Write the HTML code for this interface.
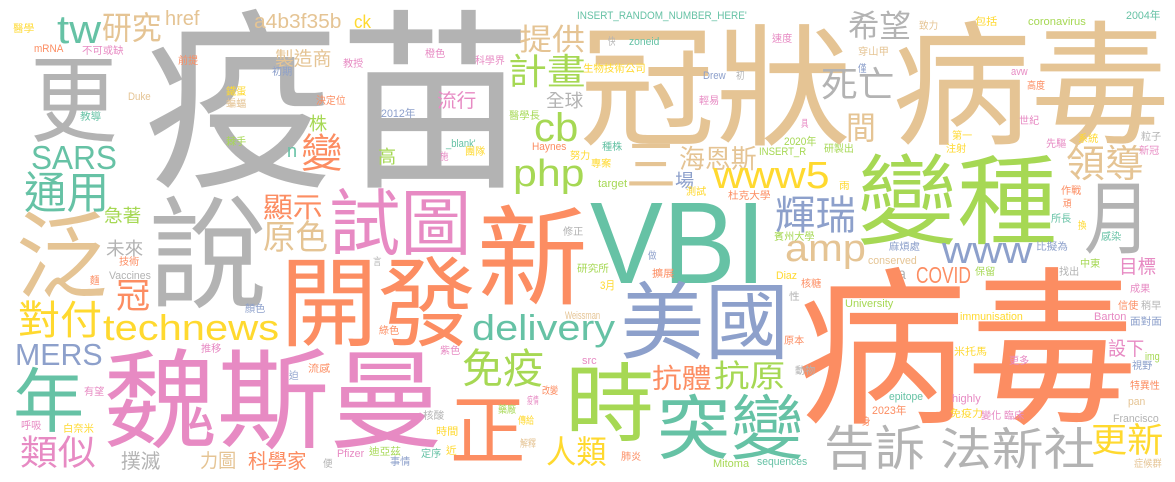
<!DOCTYPE html>
<html><head><meta charset="utf-8">
<style>
html,body{margin:0;padding:0;background:#fff;}
#cloud{position:relative;width:1175px;height:482px;overflow:hidden;background:#fff;}
#cloud span{position:absolute;white-space:nowrap;line-height:1;font-family:"Liberation Sans","Noto Sans CJK TC",sans-serif;transform-origin:0 0;}
</style></head>
<body>
<div id="cloud"></div>
<script>
const palette = {g:"#b3b3b3",t:"#e5c494",o:"#fc8d62",G:"#a6d854",T:"#66c2a5",b:"#8da0cb",p:"#e78ac3",y:"#ffd92f"};
// [text, color, inkLeft, inkTop, inkRight, fontSize, kind]
const bigWords = [
["疫苗","g",149,13,515,193,"c"],["更","g",33,57,115,95,"c"],["tw","T",57,15,101,40,"L"],
["研究","t",103,13,159,32,"c"],["href","t",165,12,199,20,"L"],["a4b3f35b","t",254,15,341,20,"L"],
["ck","y",354,15,371,18,"L"],["提供","t",520,27,582,30,"c"],["計畫","G",509,55,582,36,"c"],
["製造商","t",276,50,329,19,"c"],["流行","p",438,92,475,19,"c"],["全球","g",547,92,582,18,"c"],
["株","G",310,115,327,18,"c"],["cb","G",534,113,578,40,"L"],["SARS","T",31,145,117,33,"L"],
["變","o",302,135,341,40,"c"],["n","T",287,148,297,18,"x"],["高","G",379,148,396,18,"c"],
["php","G",513,160,584,38,"L"],["通用","T",25,173,105,44,"c"],["泛","t",19,213,105,95,"c"],
["說","g",153,197,264,122,"c"],["急著","G",105,207,140,18,"c"],["顯示","o",264,195,320,28,"c"],
["試圖","p",331,190,465,72,"c"],["原色","t",264,222,325,34,"c"],["新","o",480,207,584,108,"c"],
["未來","g",107,240,142,18,"c"],["冠","o",117,280,149,35,"c"],["開發","o",283,257,467,98,"c"],
["對付","y",19,302,98,40,"c"],["technews","y",103,315,279,36,"L"],["delivery","T",472,315,615,36,"L"],
["MERS","b",15,343,103,31,"L"],["免疫","G",463,350,540,41,"c"],["年","T",15,368,82,70,"c"],
["魏斯曼","p",107,350,425,108,"c"],["類似","p",21,437,92,35,"c"],["撲滅","g",122,452,159,20,"c"],
["力圖","t",201,452,235,19,"c"],["科學家","o",249,452,304,20,"c"],["正","o",452,397,523,76,"c"],
["人類","y",547,437,604,32,"c"],["時","G",568,365,652,85,"c"],["冠狀","t",583,27,839,132,"c"],
["希望","g",849,12,908,31,"c"],["死亡","g",822,68,891,36,"c"],["間","t",847,113,875,32,"c"],
["病毒","t",896,23,1157,135,"c"],["三","t",627,140,674,55,"c"],["海恩斯","t",680,147,753,26,"c"],
["領導","t",1067,147,1140,38,"c"],["變種","G",860,155,1048,98,"c"],["www5","y",713,162,829,38,"L"],
["場","b",676,172,694,18,"c"],["月","g",1086,182,1149,80,"c"],["輝瑞","b",776,197,852,40,"c"],
["VBI","T",590,200,766,116,"L"],["amp","t",785,243,866,38,"x"],["www","b",942,245,1032,38,"x"],
["目標","p",1120,258,1155,19,"c"],["COVID","o",916,267,971,23,"L"],["a","g",898,272,906,16,"x"],
["美國","b",623,283,782,84,"c"],["病毒","o",801,270,1122,170,"c"],["設下","p",1109,340,1143,19,"c"],
["抗體","o",653,367,709,27,"c"],["抗原","G",715,362,782,31,"c"],["突變","T",659,395,797,70,"c"],
["告訴","g",826,427,921,48,"c"],["法新社","g",942,428,1088,45,"c"],["更新","y",1092,425,1160,34,"c"]
];
// small words: [text, color, inkLeft, inkTop, inkRight]
const smallWords = [
["醫學","y",13,25,33],["mRNA","o",34,45,63],["不可或缺","p",82,47,121],["前提","o",178,57,197],
["初期","b",272,68,291],["教授","p",343,60,362],["橙色","p",425,50,444],["科學界","p",475,57,503],
["Duke","t",128,93,151],["鐵蛋","y",226,88,245],["蝙蝠","t",226,100,245],["決定位","o",316,97,344],
["2012年","b",381,110,415],["醫學長","G",509,112,538],["教導","T",80,113,100],["棘手","G",226,138,245],
["_blank'","T",446,140,476],["Haynes","o",532,143,566],["團隊","y",465,148,484],["施","p",440,153,448],
["努力","y",570,152,589],["修正","g",563,228,582],["技術","o",119,258,138],["言","g",373,258,381],
["Vaccines","g",109,272,151],["麵","o",90,277,99],["顏色","b",245,305,264],["綠色","o",379,327,398],
["推移","p",201,345,220],["紫色","p",440,347,459],["Weissman","t",565,312,600],["有望","p",84,388,103],
["迫","b",289,372,298],["流感","o",308,365,329],["呼吸","p",21,422,40],["白奈米","y",63,425,92],
["核酸","g",423,412,443],["時間","y",436,428,457],["便","g",323,460,332],["Pfizer","p",337,450,364],
["迪亞茲","G",369,448,399],["事情","b",390,458,409],["定序","T",421,450,440],["近","y",446,447,456],
["疫情","p",527,397,538],["改變","o",542,387,557],["藥廠","G",498,406,515],["傳給","y",518,417,533],
["解釋","t",520,440,535],["src","p",582,357,597],["INSERT_RANDOM_NUMBER_HERE'","T",577,12,747],
["快","g",608,38,615],["zoneid","T",629,38,659],["生物技術公司","y",583,65,642],["Drew","b",703,72,726],
["初","g",736,72,744],["致力","t",919,22,937],["包括","y",975,18,996],["coronavirus","G",1028,18,1086],
["2004年","T",1126,12,1160],["速度","p",772,35,791],["穿山甲","t",858,48,887],["僅","b",858,65,866],
["avw","p",1011,68,1028],["高度","o",1027,82,1044],["輕易","p",699,97,718],["具","p",801,120,808],
["世紀","p",1019,117,1038],["第一","y",952,132,971],["粒子","g",1141,133,1160],["系統","y",1078,135,1097],
["先驅","p",1046,140,1065],["新冠","p",1139,147,1158],["注射","y",946,145,965],["2020年","G",784,138,816],
["研製出","G",824,145,852],["INSERT_R","G",759,148,806],["種株","T",602,143,621],["專案","y",591,160,610],
["target","G",598,180,627],["測試","y",686,188,705],["杜克大學","o",728,192,768],["雨","y",839,182,849],
["作戰","o",1061,187,1080],["賓州大學","G",774,233,812],["所長","T",1051,215,1070],["頑","o",1063,200,1071],
["換","y",1078,222,1086],["麻煩處","b",889,243,918],["比擬為","b",1036,243,1066],["感染","T",1101,233,1120],
["conserved","t",868,257,917],["中東","G",1080,260,1099],["保留","G",975,268,994],["找出","g",1059,268,1078],
["做","b",648,252,656],["研究所","G",577,265,607],["擴展","o",652,270,673],["Diaz","y",776,272,797],
["3月","y",600,282,615],["核糖","o",801,280,820],["性","g",789,293,799],["成果","p",1130,285,1149],
["University","G",845,300,893],["信使","o",1118,302,1137],["稍早","g",1141,302,1160],
["immunisation","y",960,313,1023],["Barton","p",1094,313,1126],["面對面","b",1130,318,1160],
["原本","o",784,337,803],["米托馬","y",954,348,985],["img","G",1145,353,1160],["更多","p",1009,357,1028],
["視野","b",1132,362,1151],["動物","g",795,367,814],["特異性","o",1130,382,1158],["epitope","T",889,393,923],
["highly","p",952,395,981],["pan","t",1128,398,1145],["2023年","o",872,407,906],["免疫力","y",950,410,981],
["變化","p",981,412,1000],["臨床","p",1004,412,1023],["身","o",862,418,870],["Francisco","g",1113,415,1159],
["肺炎","o",621,453,640],["Mitoma","G",713,460,749],["sequences","T",757,458,807],["症候群","t",1134,460,1160]
];
const cloud = document.getElementById('cloud');
const topK = {c:0.02, L:0.13, x:0.33};
function place(text, col, x1, y1, x2, size, kind){
  const el = document.createElement('span');
  
  
  el.textContent = text;
  el.style.color = palette[col];
  el.style.fontSize = size + 'px';
  cloud.appendChild(el);
  const adv = el.offsetWidth || 1;
  const isC = kind === 'c';
  const target = isC ? (x2 - x1) / 0.94 : (x2 - x1);
  const sx = target / adv;
  el.style.transform = 'scale(' + sx + ',1)';
  el.style.left = (x1 - (isC ? 0.03 * size * sx : 0)) + 'px';
  el.style.top = (y1 - topK[kind] * size) + 'px';
}
bigWords.forEach(w => place(w[0], w[1], w[2], w[3], w[4], w[5], w[6]));
smallWords.forEach(w => {
  const latin = /^[\x00-\x7f]+$/.test(w[0].replace(/年|月/g,''));
  place(w[0], w[1], w[2], w[3], w[4], latin ? 11 : 10, latin ? 'L' : 'c');
});
</script>
</body></html>
